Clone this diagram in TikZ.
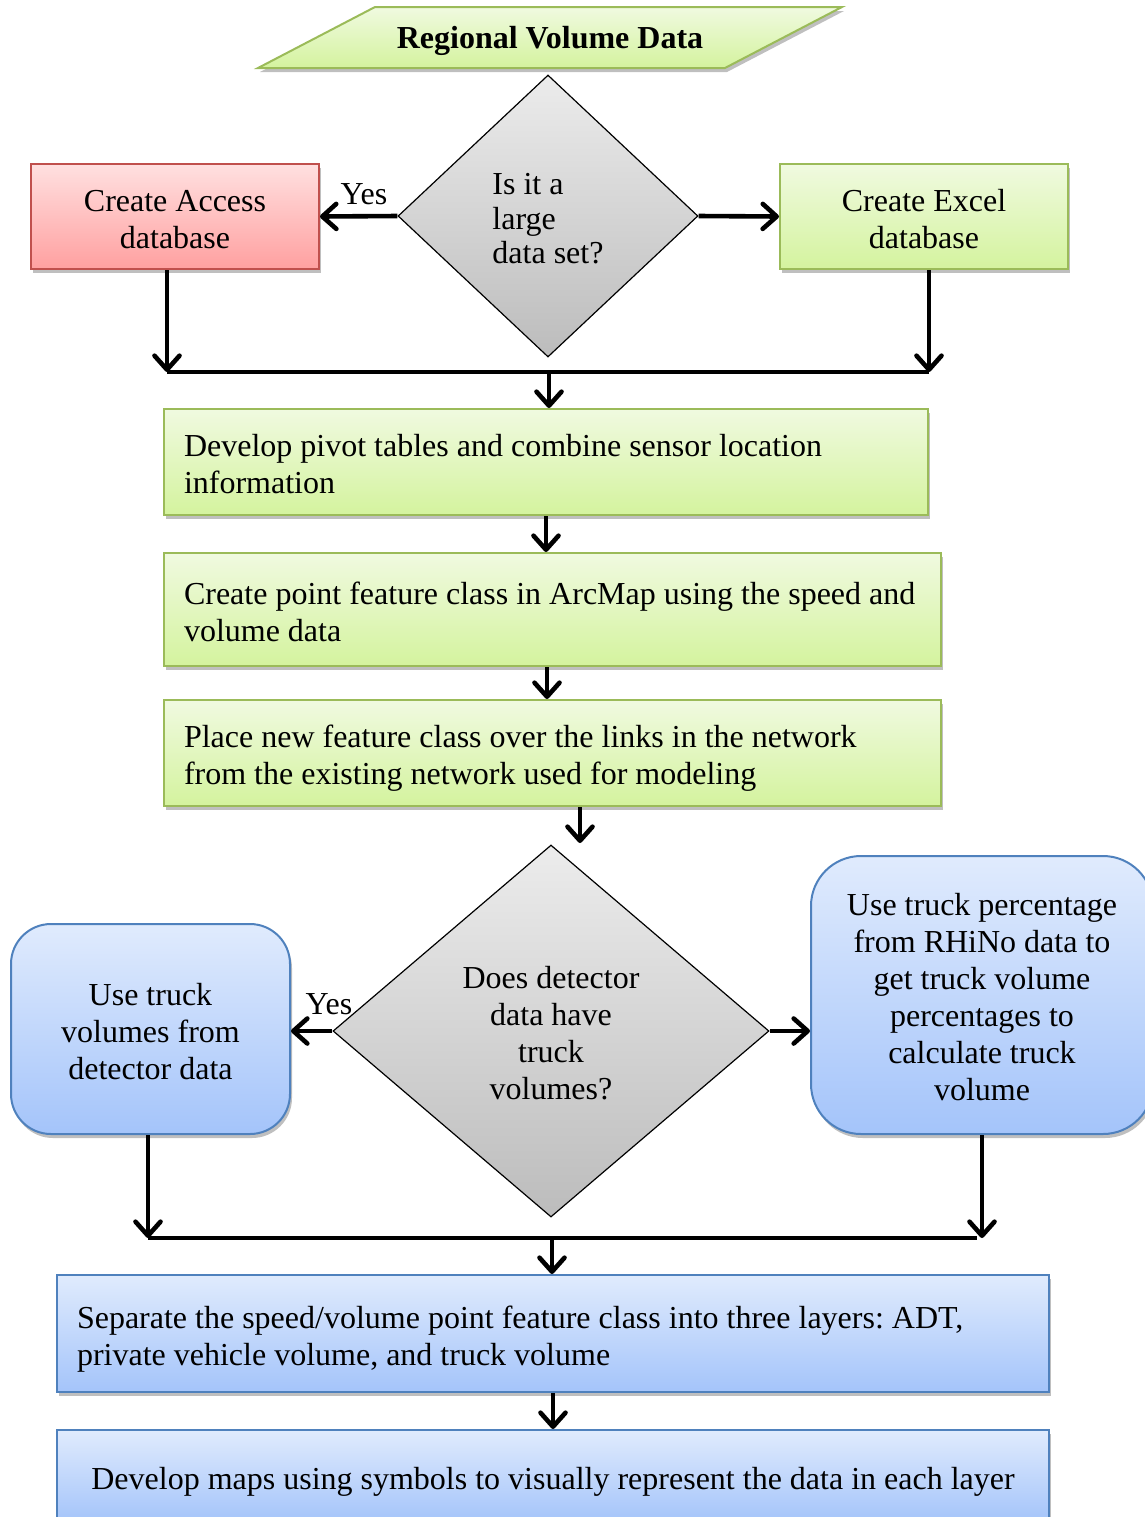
\documentclass[tikz,border=0pt]{standalone}
\usepackage{fontspec}
\setmainfont{Liberation Serif}
\usetikzlibrary{shapes.geometric,arrows.meta,shadows}

\definecolor{greentop}{RGB}{240,250,224}
\definecolor{greenbot}{RGB}{212,243,158}
\definecolor{greenline}{RGB}{155,187,89}
\definecolor{redtop}{RGB}{255,224,224}
\definecolor{redbot}{RGB}{255,160,160}
\definecolor{redline}{RGB}{192,80,77}
\definecolor{bluetop}{RGB}{224,235,253}
\definecolor{bluebot}{RGB}{164,196,250}
\definecolor{blueline}{RGB}{79,129,189}
\definecolor{graytop}{RGB}{236,236,236}
\definecolor{graybot}{RGB}{188,188,188}

% struts that give every text block a fixed ascent and descent
\newcommand\ts{\rule{0pt}{1.05em}}
\newcommand\bs{\rule[-0.22em]{0pt}{0pt}}

\tikzset{
  softshadow/.style={drop shadow={shadow xshift=1pt,shadow yshift=-2pt,opacity=0.25,fill=black}},
  box/.style={rectangle, line width=1pt, inner xsep=10pt, inner ysep=0pt, softshadow},
  greenbox/.style={box, draw=greenline, top color=greentop, bottom color=greenbot},
  redbox/.style={box, draw=redline, top color=redtop, bottom color=redbot},
  bluebox/.style={box, draw=blueline, top color=bluetop, bottom color=bluebot},
  decision/.style={diamond, draw=black, line width=0.6pt, top color=graytop, bottom color=graybot, inner sep=0pt},
  flow/.style={line width=2.3pt, -{Straight Barb[length=7pt,width=12.5pt,round]}},
  joinline/.style={line width=2.3pt},
  lbl/.style={inner sep=0pt}
}

\begin{document}
\frenchspacing
\begin{tikzpicture}[x=0.5pt,y=-0.5pt,font=\fontsize{16}{18.5}\selectfont]
\useasboundingbox (0,0) rectangle (1145,1517);

% input parallelogram
\draw[draw=greenline, line width=1pt, top color=greentop, bottom color=greenbot, softshadow]
  (258,68) -- (375,7) -- (842,7) -- (725,68) -- cycle;
\node[lbl, font=\fontsize{16}{18.5}\selectfont\bfseries] (title) at (550,41) {Regional Volume Data};

% first decision and its two branches
\node[decision, minimum width=150pt, minimum height=141pt, align=flush left,
      font=\fontsize{16}{17.2}\selectfont] (d1) at (548,216) {\ts Is it a\\large\\data set?\bs};
\node[redbox, minimum width=144pt, minimum height=52.5pt, align=flush center] (access) at (175,216.5) {\ts Create Access\\database\bs};
\node[greenbox, minimum width=144pt, minimum height=52.5pt, align=flush center] (excel) at (924,216.5) {\ts Create Excel\\database\bs};
\node[lbl] (yes1) at (364,194) {Yes};

% processing steps
\node[greenbox, minimum width=382pt, minimum height=53pt, text width=362pt, align=flush left] (pivot) at (546,462)
  {\ts\mbox{Develop pivot tables and combine sensor location}\\\mbox{information}\bs};
\node[greenbox, minimum width=388.5pt, minimum height=56.5pt, text width=368.5pt, align=flush left] (point) at (552.5,609.5)
  {\ts\mbox{Create point feature class in ArcMap using the speed and}\\\mbox{volume data}\bs};
\node[greenbox, minimum width=388.5pt, minimum height=53pt, text width=368.5pt, align=flush left] (place) at (552.5,753)
  {\ts\mbox{Place new feature class over the links in the network}\\\mbox{from the existing network used for modeling}\bs};

% second decision and its two branches
\node[decision, minimum width=218pt, minimum height=186pt, align=flush center] (d2) at (551,1031)
  {\ts Does detector\\data have\\truck\\volumes?\bs};
\node[bluebox, rounded corners=20pt, minimum width=139.5pt, minimum height=105pt, align=flush center] (trkdet) at (150.5,1029)
  {\ts Use truck\\volumes from\\detector data\bs};
\node[bluebox, rounded corners=25pt, minimum width=171pt, minimum height=139pt, align=flush center] (trkpct) at (982,995)
  {\ts Use truck percentage\\from RHiNo data to\\get truck volume\\percentages to\\calculate truck\\volume\bs};
\node[lbl] (yes2) at (329,1004) {Yes};

% output steps
\node[bluebox, minimum width=496pt, minimum height=58.5pt, text width=476pt, align=flush left] (sep) at (553,1333.5)
  {\ts\mbox{Separate the speed/volume point feature class into three layers: ADT,}\\\mbox{private vehicle volume, and truck volume}\bs};
\node[bluebox, minimum width=496pt, minimum height=46pt, align=flush center] (maps) at (553,1476)
  {\ts Develop maps using symbols to visually represent the data in each layer\bs};

% junction points
\coordinate (j1l) at (167,372);
\coordinate (j1r) at (929,372);
\coordinate (j1m) at (549,372);
\coordinate (d2in) at (580,843);
\coordinate (j2l) at (148,1238);
\coordinate (j2r) at (977,1238);
\coordinate (j2m) at (552,1238);

% connectors
\draw[flow] (d1.west) -- (access.east);
\draw[flow] (d1.east) -- (excel.west);
\draw[flow] (access.south -| j1l) -- (j1l);
\draw[flow] (excel.south -| j1r) -- (j1r);
\draw[joinline] (j1l) -- (j1r);
\draw[flow] (j1m) -- (j1m |- pivot.north);
\draw[flow] (pivot.south) -- (pivot.south |- point.north);
\draw[flow] ([xshift=-2.75pt]point.south) -- ([xshift=-2.75pt]point.south |- place.north);
\draw[flow] (place.south -| d2in) -- (d2in);
\draw[flow] (d2.west) -- (d2.west -| trkdet.east);
\draw[flow] (d2.east) -- (d2.east -| trkpct.west);
\draw[flow] (trkdet.south -| j2l) -- (j2l);
\draw[flow] (trkpct.south) -- (trkpct.south |- j2l);
\draw[joinline] (j2l) -- (j2r);
\draw[flow] (j2m) -- (j2m |- sep.north);
\draw[flow] (sep.south) -- (sep.south |- maps.north);
\end{tikzpicture}
\end{document}
